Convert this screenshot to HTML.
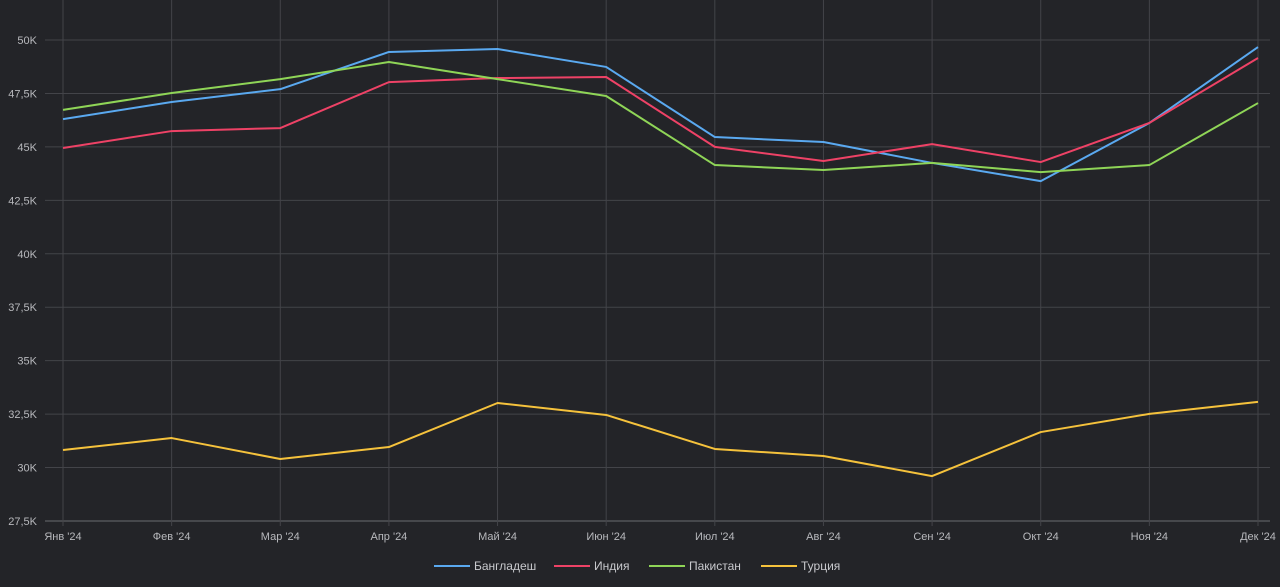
<!DOCTYPE html>
<html><head><meta charset="utf-8"><style>
body{margin:0;background:#232428;}
svg{display:block;font-family:"Liberation Sans",sans-serif;}
</style></head><body>
<svg id="chart" width="1280" height="587" viewBox="0 0 1280 587">
<rect width="1280" height="587" fill="#232428"/>
<g id="grid"></g>
<g id="series"></g>
<g id="labels"></g>
<g id="legend"></g>
</svg>
<script>
const months = ["Янв '24","Фев '24","Мар '24","Апр '24","Май '24","Июн '24","Июл '24","Авг '24","Сен '24","Окт '24","Ноя '24","Дек '24"];
const yTicks = [27500,30000,32500,35000,37500,40000,42500,45000,47500,50000];
const yTickLabels = ["27,5K","30K","32,5K","35K","37,5K","40K","42,5K","45K","47,5K","50K"];
const seriesNames = ["Бангладеш","Индия","Пакистан","Турция"];
const seriesColors = ["#5aa9f0","#ee4266","#8fd557","#f5c23c"];
const bangladesh = [46300,47100,47700,49440,49580,48740,45460,45230,44250,43400,46120,49670];
const india = [44950,45740,45880,48030,48220,48270,45000,44340,45130,44290,46120,49160];
const pakistan = [46730,47520,48170,48970,48170,47380,44150,43920,44250,43820,44150,47050];
const turkey = [30820,31380,30400,30960,33020,32460,30870,30540,29600,31660,32510,33070];
const allSeries = [bangladesh, india, pakistan, turkey];

const NS="http://www.w3.org/2000/svg";
const x0=63,x1=1258,yTop=40,yBot=521,vMin=27500,vMax=50000;
const xs=i=>x0+(x1-x0)*i/(months.length-1);
const ys=v=>yBot-(v-vMin)/(vMax-vMin)*(yBot-yTop);
function mk(t,a,p){const e=document.createElementNS(NS,t);for(const k in a)e.setAttribute(k,a[k]);p.appendChild(e);return e;}
const grid=document.getElementById('grid'),labels=document.getElementById('labels');
yTicks.forEach((v,i)=>{
  const l=mk('line',{x1:45,x2:1270,y1:ys(v),y2:ys(v),stroke:i==0?'#6a6b70':'#434449','stroke-width':1},grid);
  
  
  const t=mk('text',{x:37,y:ys(v)+4,'text-anchor':'end','font-size':11,fill:'#b8b9bd'},labels);
  t.textContent=yTickLabels[i];
  
  
});
months.forEach((m,i)=>{
  const l=mk('line',{x1:xs(i),x2:xs(i),y1:0,y2:526,stroke:'#434449','stroke-width':1},grid);
  
  
  const t=mk('text',{x:xs(i),y:540,'text-anchor':'middle','font-size':11,fill:'#b8b9bd'},labels);
  t.textContent=m;
  
  
});
const sg=document.getElementById('series');
allSeries.forEach((d,si)=>{
  const p=mk('polyline',{points:d.map((v,i)=>xs(i)+','+ys(v)).join(' '),fill:'none',stroke:seriesColors[si],'stroke-width':2,'stroke-linejoin':'round'},sg);
  
  
});
const lg=document.getElementById('legend');
const lx=[434,554,649,761];
seriesNames.forEach((n,i)=>{
  const g=mk('g',{},lg);
  
  
  mk('line',{x1:lx[i],x2:lx[i]+36,y1:566,y2:566,stroke:seriesColors[i],'stroke-width':2},g);
  const t=mk('text',{x:lx[i]+40,y:570,'font-size':12,fill:'#c8c9cd'},g);
  t.textContent=n;
});
</script>
</body></html>
